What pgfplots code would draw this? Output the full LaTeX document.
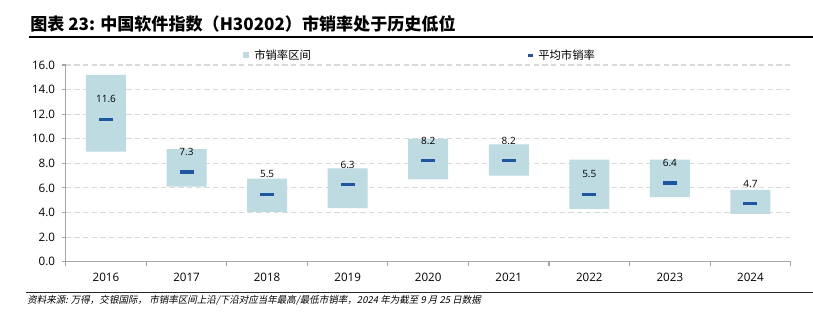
\documentclass[border=0pt]{standalone}
\usepackage{fontspec}
\setmainfont{Open Sans}
\newfontfamily\cjk{Noto Sans CJK SC}
\newfontfamily\cjkit[FakeSlant=0.2]{Noto Sans CJK SC}
\usepackage{pgfplots}
\usepackage{pgfplotstable}
\pgfplotsset{compat=1.18}
\definecolor{boxc}{RGB}{189,219,224}
\definecolor{avgc}{RGB}{31,86,160}
\definecolor{axc}{RGB}{166,166,166}
\definecolor{gridc}{RGB}{217,217,217}
\newcommand\PX[2]{({#1*0.75pt},{-#2*0.75pt})}
\pgfplotstableread{
x low high avg
0 8.95 15.2 11.6
1 6.10 9.15 7.3
2 4.05 6.75 5.5
3 4.35 7.60 6.3
4 6.70 10.0 8.2
5 7.00 9.55 8.2
6 4.30 8.30 5.5
7 5.25 8.30 6.4
8 3.90 5.85 4.7
}\data
\pgfplotsset{base/.style={
  at={(49.275pt,-196.275pt)}, anchor=south west, scale only axis,
  width=543.75pt, height=147.5pt,
  xmin=-0.5, xmax=8.5, ymin=0, ymax=16,
}}
\begin{document}
\begin{tikzpicture}
\useasboundingbox \PX{0}{0} rectangle \PX{813}{324};
\begin{axis}[base,
  ybar stacked, bar width=30pt,
  axis x line*=bottom, axis y line*=left,
  axis line style={axc, line width=0.8pt},
  xtick={0,...,8},
  xticklabels={2016,2017,2018,2019,2020,2021,2022,2023,2024},
  major x tick style={draw=none},
  minor xtick={-0.5,0.5,...,8.5},
  minor x tick style={axc, line width=0.8pt},
  minor tick length=3pt,
  ytick={0,2,...,16},
  major y tick style={axc, line width=0.8pt},
  major tick length=3pt,
  tick align=outside,
  ymajorgrids, grid style={gridc, dashed, line width=0.8pt, dash pattern=on 4pt off 2.5pt},
  /pgf/number format/assume math mode=true,
  ticklabel style={font=\fontsize{8.7}{10}\selectfont, text=black},
  yticklabel style={xshift=-1.5pt, /pgf/number format/fixed, /pgf/number format/fixed zerofill, /pgf/number format/precision=1},
  xticklabel style={yshift=-2pt},
]
\addplot[draw=none, fill=none] table[x=x, y=low] {\data};
\addplot[draw=none, fill=boxc] table[x=x, y expr=\thisrow{high}-\thisrow{low}] {\data};
\end{axis}
\begin{axis}[base, hide axis]
\addplot[only marks, mark=-, mark size=5.25pt, mark options={avgc, line width=2.3pt},
  nodes near coords, point meta=y,
  nodes near coords style={anchor=center, yshift=14.75pt, font=\fontsize{7.5}{9}\selectfont, text=black,
    /pgf/number format/fixed, /pgf/number format/fixed zerofill, /pgf/number format/precision=1,
    /pgf/number format/assume math mode=true},
] table[x=x, y=avg] {\data};
\end{axis}
% legend
\fill[boxc] \PX{243}{52.3} rectangle \PX{249}{58.3};
\node[anchor=west, inner sep=0, font=\cjk\fontsize{8.5}{10}\selectfont] at \PX{254}{55.3} {市销率区间};
\draw[avgc, line width=2.2pt] \PX{527.5}{55.3} -- \PX{533}{55.3};
\node[anchor=west, inner sep=0, font=\cjk\fontsize{8.5}{10}\selectfont] at \PX{538}{55.3} {平均市销率};
% title
\node[anchor=west, inner sep=0, font=\cjk\bfseries\fontsize{12.8}{14}\selectfont] at \PX{30}{23.5} {图表 23: 中国软件指数（H30202）市销率处于历史低位};
\draw[black, line width=1.1pt] \PX{29}{37} -- \PX{813}{37};
\draw[black!85, line width=0.8pt] \PX{26}{292.7} -- \PX{813}{292.7};
\node[anchor=west, inner sep=0, font=\cjkit\fontsize{7.15}{8}\selectfont] at \PX{27}{300.5} {资料来源: 万得，交银国际， 市销率区间上沿/下沿对应当年最高/最低市销率，2024 年为截至 9 月 25 日数据};
\end{tikzpicture}
\end{document}
